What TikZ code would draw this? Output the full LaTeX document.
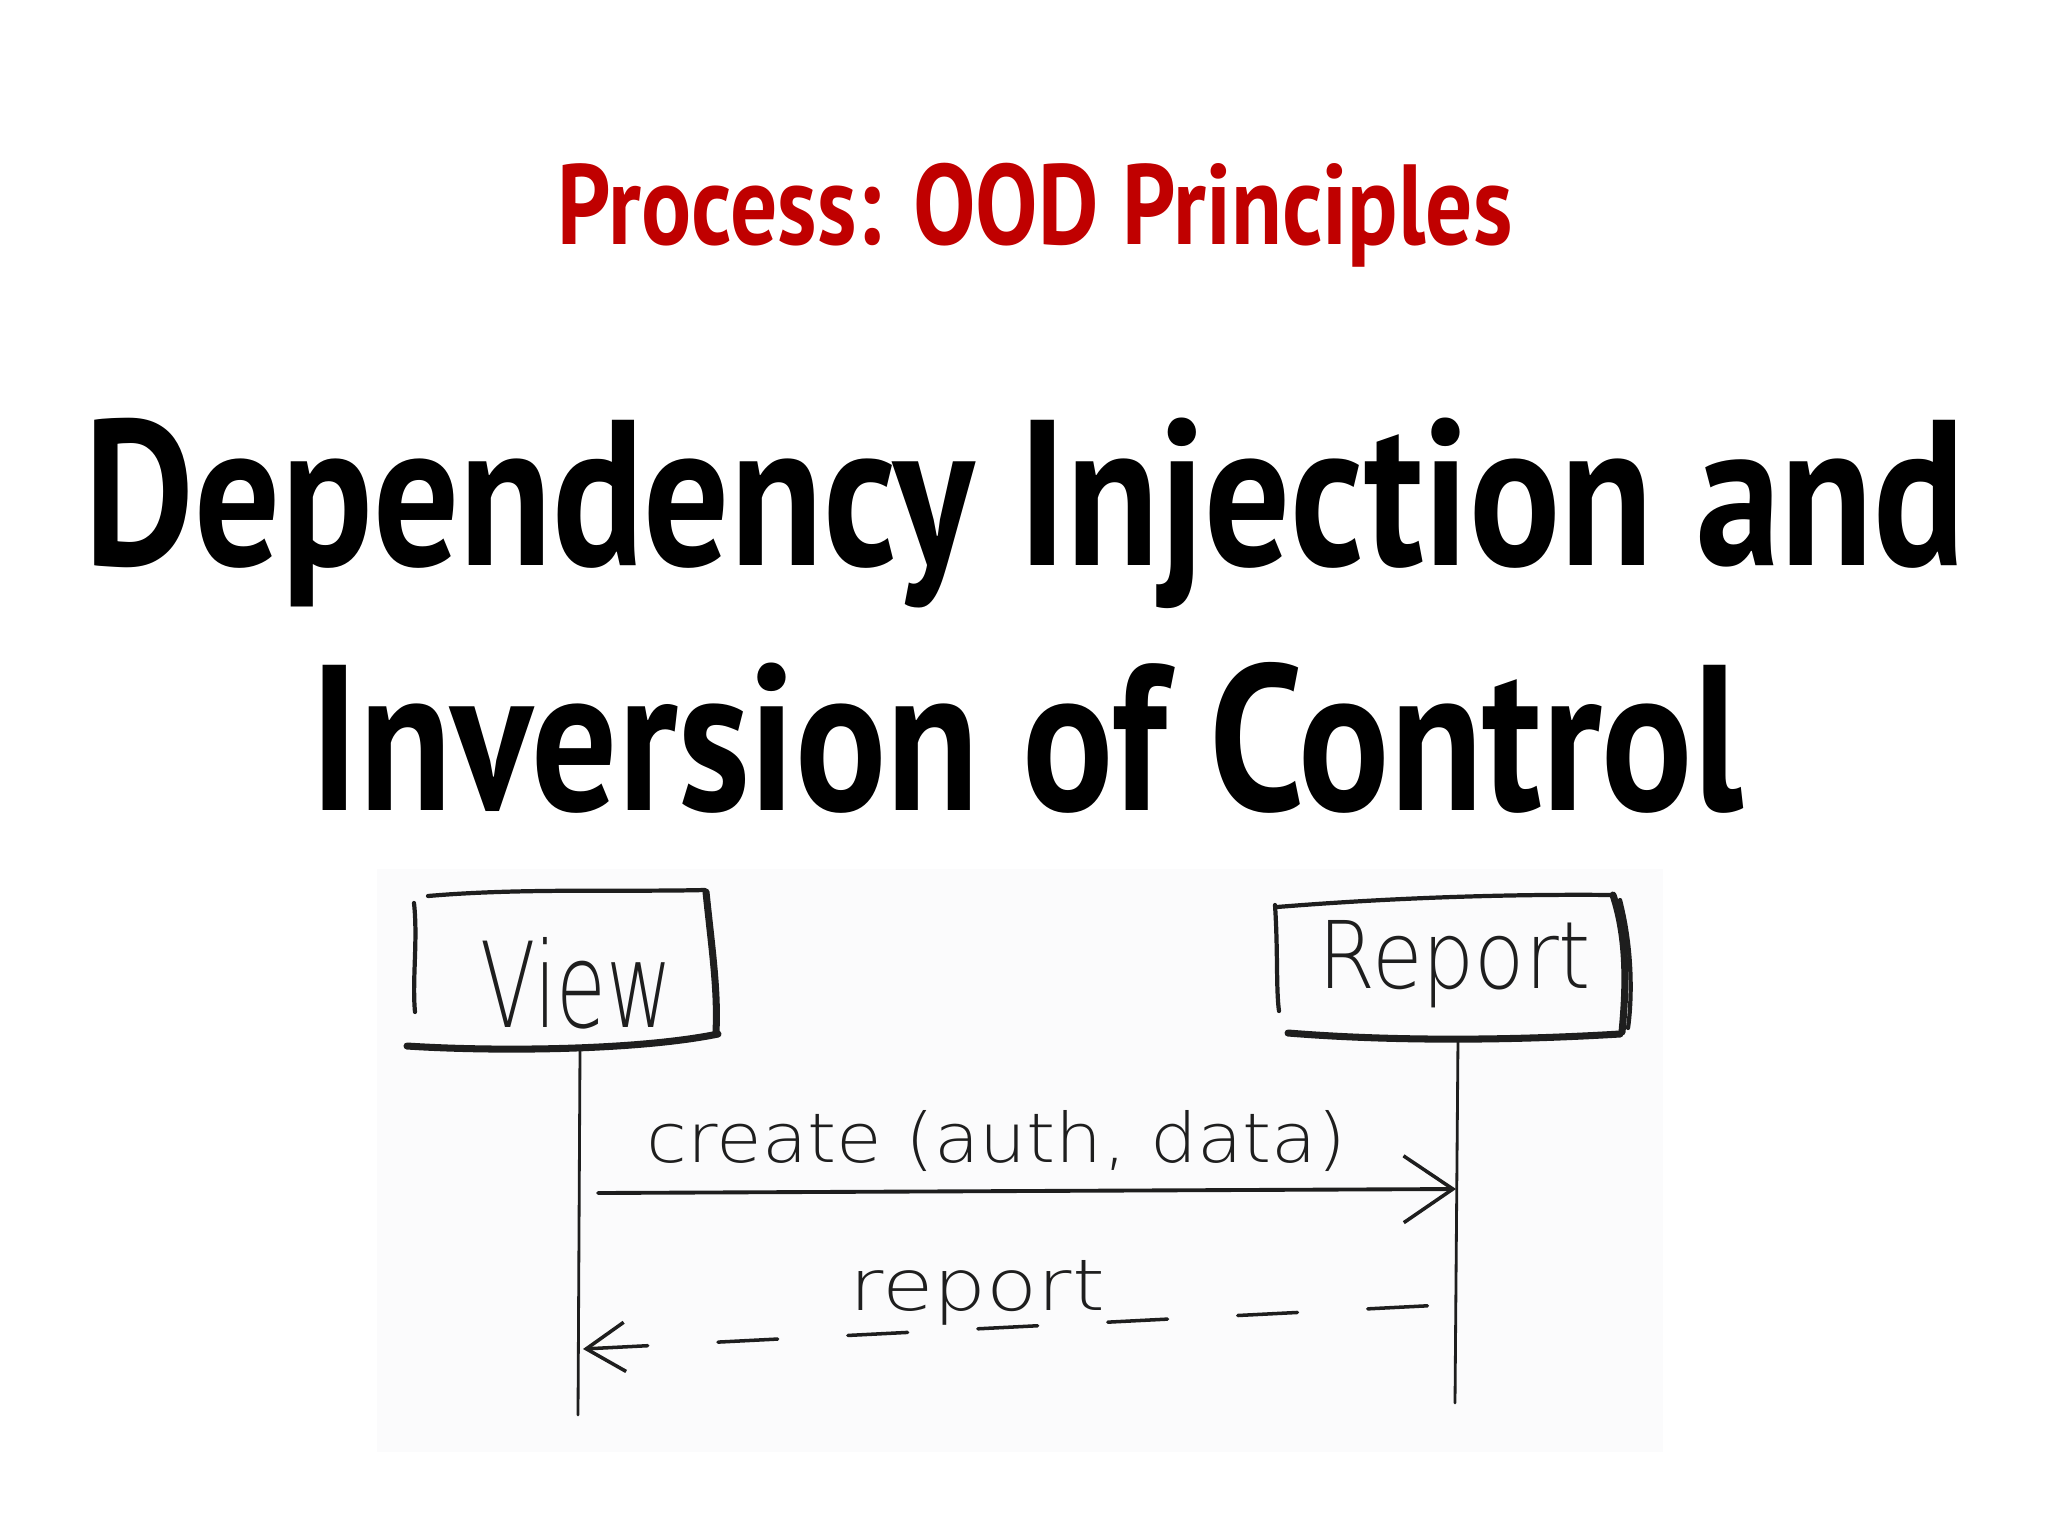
\documentclass[tikz,border=0pt]{standalone}
\usepackage{fontspec}
\usetikzlibrary{arrows.meta}
\setmainfont{PT Sans}
\newfontfamily\narrowfont{PT Sans Bold}[FakeStretch=0.82]
\newfontfamily\handfont{DejaVuSans-ExtraLight.ttf}
\definecolor{oodred}{RGB}{192,0,0}
\definecolor{pencil}{RGB}{30,30,30}
\definecolor{paper}{RGB}{251,251,252}
\begin{document}
\begin{tikzpicture}[x=0.01cm,y=-0.01cm,
	pen/.style={draw=pencil,line cap=round,line join=round,line width=1.2pt},
	heavypen/.style={pen,line width=2pt},
	life/.style={pen,line width=0.8pt},
	hand/.style={inner sep=0pt,text=pencil,font=\handfont},
	call/.style={pen,line width=1.1pt,-{Straight Barb[length=14pt,width=19pt,line width=1pt]}},
	answer/.style={pen,line width=1pt,dash pattern=on 17pt off 20pt,
		{Straight Barb[length=11pt,width=14pt,line width=1pt]}-}]
\useasboundingbox (0,0) rectangle (2048,1536);
\fill[color=paper] (377,869) rectangle (1663,1452);
% headings
\node[anchor=base,text=oodred,font=\narrowfont\fontsize{32.4}{38}\selectfont]
	(process) at (1035,244) {Process: OOD Principles};
\node[anchor=base,font=\narrowfont\fontsize{59}{70}\selectfont]
	(topicA) at (1025,565) {Dependency Injection and};
\node[anchor=base,font=\narrowfont\fontsize{59}{70}\selectfont]
	(topicB) at (1027,810) {Inversion of Control};
% the two objects
\node[hand,anchor=base west] (view) at (480,1027) {\resizebox{1.92cm}{0.9cm}{View}};
\node[hand,anchor=base west] (report) at (1318,988) {\resizebox{2.72cm}{0.68cm}{Report}};
\draw[pen] (428,896) .. controls (520,888) and (620,892) .. (705,890);
\draw[pen] (414,903) .. controls (418,940) and (412,980) .. (415,1012);
\draw[heavypen] (706,892) .. controls (712,950) and (718,990) .. (716,1032);
\draw[heavypen] (407,1046) .. controls (500,1052) and (640,1050) .. (718,1034);
\draw[pen] (1277,907) .. controls (1400,897) and (1520,894) .. (1613,895);
\draw[pen] (1275,905) .. controls (1278,950) and (1276,990) .. (1279,1011);
\draw[heavypen] (1613,895) .. controls (1628,940) and (1626,990) .. (1622,1032);
\draw[pen] (1620,900) .. controls (1633,950) and (1632,1000) .. (1628,1028);
\draw[heavypen] (1288,1033) .. controls (1400,1042) and (1520,1040) .. (1620,1034);
% lifelines
\coordinate (viewfoot) at (580,1050);
\coordinate (viewend) at (578,1415);
\coordinate (reportfoot) at (1458,1038);
\coordinate (reportend) at (1455,1403);
\draw[life] (viewfoot) -- (viewend);
\draw[life] (reportfoot) -- (reportend);
% messages
\coordinate (callstart) at (598,1193);
\coordinate (callend) at (1456,1189);
\coordinate (answerstart) at (583,1349);
\coordinate (answerend) at (1443,1305);
\draw[call] (callstart) -- (callend);
\draw[answer] (answerstart) -- (answerend);
\node[hand,anchor=base west] (createlbl) at (646,1162) {\resizebox{6.99cm}{0.52cm}{create (auth, data)}};
\node[hand,anchor=base west] (reportlbl) at (849,1310) {\resizebox{2.55cm}{0.5cm}{report}};
\end{tikzpicture}
\end{document}
